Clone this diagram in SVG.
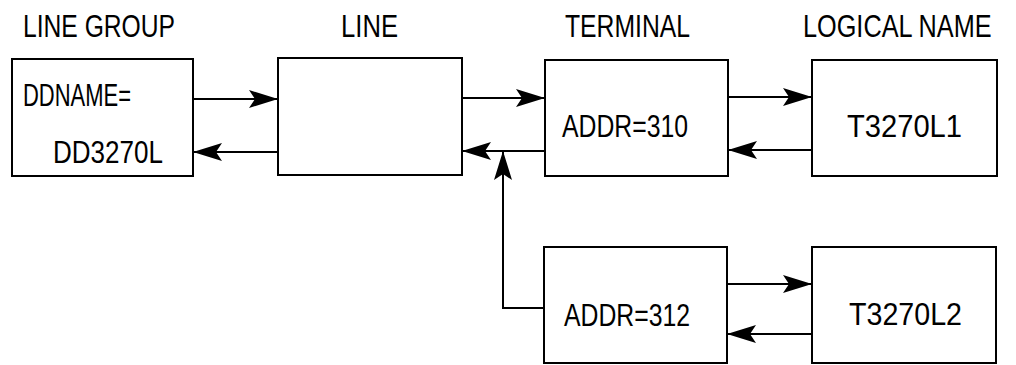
<svg xmlns="http://www.w3.org/2000/svg" width="1016" height="365" viewBox="0 0 1016 365">
<style>
.box{fill:#fff;stroke:#000;stroke-width:2}
.t{font-family:"Liberation Sans",Arial,sans-serif;font-size:32px;fill:#000}
.c{fill:none;stroke:#000;stroke-width:2}
</style>
<defs>
<marker id="ah" markerUnits="userSpaceOnUse" markerWidth="34" markerHeight="22" viewBox="-32 -11 34 22" refX="0" refY="0" orient="auto">
<path d="M1,0 L-28,-9 L-22,0 L-28,9 Z" fill="#000"/>
</marker>
</defs>
<rect width="1016" height="365" fill="#fff"/>
<g id="headers">
<text class="t" x="23" y="37" textLength="152" lengthAdjust="spacingAndGlyphs">LINE GROUP</text>
<text class="t" x="341" y="37" textLength="57" lengthAdjust="spacingAndGlyphs">LINE</text>
<text class="t" x="565" y="37" textLength="125" lengthAdjust="spacingAndGlyphs">TERMINAL</text>
<text class="t" transform="translate(803,37) scale(0.72,1)" x="0" y="0" textLength="262" lengthAdjust="spacingAndGlyphs">LOGICAL NAME</text>
</g>
<g id="linegroup">
<rect class="box" x="12" y="59" width="181" height="117"/>
<text class="t" x="23" y="106" textLength="108" lengthAdjust="spacingAndGlyphs">DDNAME=</text>
<text class="t" x="53" y="163" textLength="110" lengthAdjust="spacingAndGlyphs">DD3270L</text>
</g>
<g id="line">
<rect class="box" x="278" y="58" width="184" height="117"/>
</g>
<g id="terminal1">
<rect class="box" x="545" y="60" width="183" height="116"/>
<text class="t" x="562" y="137" textLength="126" lengthAdjust="spacingAndGlyphs">ADDR=310</text>
</g>
<g id="logical1">
<rect class="box" x="812" y="60" width="185" height="116"/>
<text class="t" x="847" y="137" textLength="115" lengthAdjust="spacingAndGlyphs">T3270L1</text>
</g>
<g id="terminal2">
<rect class="box" x="544" y="247" width="183" height="116"/>
<text class="t" x="564" y="326" textLength="126" lengthAdjust="spacingAndGlyphs">ADDR=312</text>
</g>
<g id="logical2">
<rect class="box" x="812" y="247" width="184" height="116"/>
<text class="t" x="849" y="325" textLength="113" lengthAdjust="spacingAndGlyphs">T3270L2</text>
</g>
<g id="connectors">
<path class="c" d="M193,99 H277" marker-end="url(#ah)"/>
<path class="c" d="M278,152 H194" marker-end="url(#ah)"/>
<path class="c" d="M462,98 H544" marker-end="url(#ah)"/>
<path class="c" d="M545,151 H463" marker-end="url(#ah)"/>
<path class="c" d="M728,97 H811" marker-end="url(#ah)"/>
<path class="c" d="M812,150 H729" marker-end="url(#ah)"/>
<path class="c" d="M544,308 H503 V152" marker-end="url(#ah)"/>
<path class="c" d="M727,284 H811" marker-end="url(#ah)"/>
<path class="c" d="M812,334 H728" marker-end="url(#ah)"/>
</g>
</svg>
